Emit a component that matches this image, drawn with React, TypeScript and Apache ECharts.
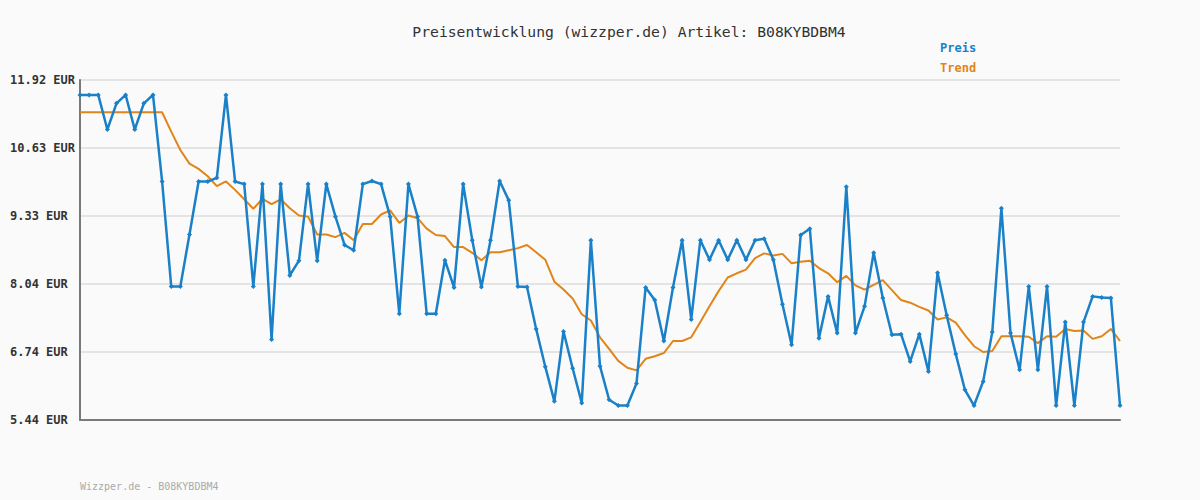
import React, { useEffect, useRef } from "react";
import * as echarts from "echarts";

const TITLE = "Preisentwicklung (wizzper.de) Artikel: B08KYBDBM4";
const FOOTER = "Wizzper.de - B08KYBDBM4";

const price = [
  11.64, 11.64, 11.64, 10.98, 11.48, 11.64, 10.98, 11.48, 11.64, 9.99,
  7.99, 7.99, 8.98, 9.99, 9.99, 10.06, 11.64, 9.99, 9.94, 7.99,
  9.94, 6.98, 9.94, 8.2, 8.48, 9.94, 8.48, 9.94, 9.32, 8.78,
  8.68, 9.94, 10.0, 9.94, 9.32, 7.47, 9.94, 9.32, 7.47, 7.47,
  8.49, 7.97, 9.94, 8.87, 7.98, 8.87, 10.0, 9.63, 7.99, 7.98,
  7.18, 6.46, 5.8, 7.13, 6.43, 5.77, 8.87, 6.47, 5.83, 5.72,
  5.72, 6.14, 7.97, 7.73, 6.95, 7.97, 8.87, 7.36, 8.87, 8.5,
  8.87, 8.5, 8.87, 8.5, 8.87, 8.9, 8.5, 7.65, 6.88, 8.97,
  9.09, 7.0, 7.8, 7.1, 9.89, 7.1, 7.61, 8.63, 7.77, 7.07,
  7.08, 6.56, 7.08, 6.37, 8.25, 7.44, 6.7, 6.02, 5.72, 6.18,
  7.12, 9.48, 7.1, 6.4, 7.99, 6.4, 7.99, 5.72, 7.31, 5.72,
  7.31, 7.8, 7.78, 7.77, 5.72,
];

const trend = [
  11.31, 11.31, 11.31, 11.31, 11.31, 11.31, 11.31, 11.31, 11.31, 11.31,
  10.94, 10.59, 10.33, 10.23, 10.09, 9.9, 9.99, 9.83, 9.65, 9.47,
  9.66, 9.56, 9.65, 9.48, 9.34, 9.32, 8.98, 8.98, 8.93, 9.01,
  8.87, 9.18, 9.18, 9.36, 9.44, 9.2, 9.34, 9.29, 9.09, 8.97,
  8.95, 8.74, 8.74, 8.63, 8.49, 8.64, 8.64, 8.68, 8.72, 8.78,
  8.64, 8.5, 8.08, 7.93, 7.76, 7.46, 7.34, 7.02, 6.8, 6.57,
  6.44, 6.39, 6.61, 6.66, 6.72, 6.95, 6.95, 7.02, 7.31, 7.61,
  7.9, 8.16, 8.24, 8.31, 8.53, 8.62, 8.58, 8.61, 8.43, 8.46,
  8.48, 8.34, 8.24, 8.07, 8.19, 8.01, 7.93, 8.02, 8.11, 7.92,
  7.73, 7.68, 7.6, 7.53, 7.36, 7.4, 7.3, 7.06, 6.85, 6.74,
  6.76, 7.04, 7.04, 7.04, 7.03, 6.91, 7.04, 7.03, 7.18, 7.14,
  7.15, 6.99, 7.04, 7.18, 6.95,
];

const categories = price.map((_, i) => String(i + 1));

const Y_MIN = 5.444;
const Y_MAX = 11.924;
const Y_STEP = 1.296;

const BLUE = "#1a80c8";
const ORANGE = "#e0851a";
const MONO = "'DejaVu Sans Mono', 'Liberation Mono', monospace";

export default function App() {
  const ref = useRef<HTMLDivElement>(null);
  useEffect(() => {
    document.body.style.margin = "0";
    const chart = echarts.init(ref.current!, null, { renderer: "svg" });
    chart.setOption({
      animation: false,
      backgroundColor: "#fafafa",
      title: {
        text: TITLE,
        left: 624,
        textAlign: "center",
        top: 19,
        textStyle: { fontFamily: MONO, fontSize: 14.7, fontWeight: "normal", color: "#333" },
      },
      legend: {
        orient: "vertical",
        left: 930,
        top: 36,
        icon: "none",
        itemWidth: 0,
        itemHeight: 14,
        itemGap: 7,
        selectedMode: false,
        data: [
          { name: "Preis", textStyle: { color: BLUE } },
          { name: "Trend", textStyle: { color: ORANGE } },
        ],
        textStyle: { fontFamily: MONO, fontSize: 12, fontWeight: "bold" },
      },
      graphic: [
        {
          type: "text",
          left: 80,
          top: 481,
          style: { text: FOOTER, fontFamily: MONO, fontSize: 10, fill: "#aaa" },
        },
      ],
      grid: { left: 80, right: 80, top: 80, bottom: 80, containLabel: false },
      xAxis: {
        type: "category",
        data: categories,
        boundaryGap: false,
        axisLine: { show: true, lineStyle: { color: "#7a7a7a", width: 2 } },
        axisTick: { show: false },
        axisLabel: { show: false },
        splitLine: { show: false },
      },
      yAxis: {
        type: "value",
        min: Y_MIN,
        max: Y_MAX,
        interval: Y_STEP,
        axisLine: { show: true, lineStyle: { color: "#7a7a7a", width: 2 } },
        axisTick: { show: false },
        axisLabel: {
          align: "left",
          margin: 70,
          fontFamily: MONO,
          fontSize: 12,
          fontWeight: "bold",
          color: "#333",
          formatter: (v: number) => v.toFixed(2) + " EUR",
        },
        splitLine: { show: true, lineStyle: { color: "#e4e4e4", width: 2 } },
      },
      series: [
        {
          name: "Preis",
          type: "line",
          data: price,
          color: BLUE,
          symbol: "diamond",
          symbolSize: 5,
          showSymbol: true,
          lineStyle: { color: BLUE, width: 2.5 },
          itemStyle: { color: BLUE },
          z: 3,
        },
        {
          name: "Trend",
          type: "line",
          data: trend,
          color: ORANGE,
          symbol: "none",
          lineStyle: { color: ORANGE, width: 2 },
          z: 2,
        },
      ],
    });
    return () => chart.dispose();
  }, []);
  return (
    <div
      ref={ref}
      style={{ position: "absolute", left: 0, top: 0, width: 1200, height: 500 }}
    />
  );
}
